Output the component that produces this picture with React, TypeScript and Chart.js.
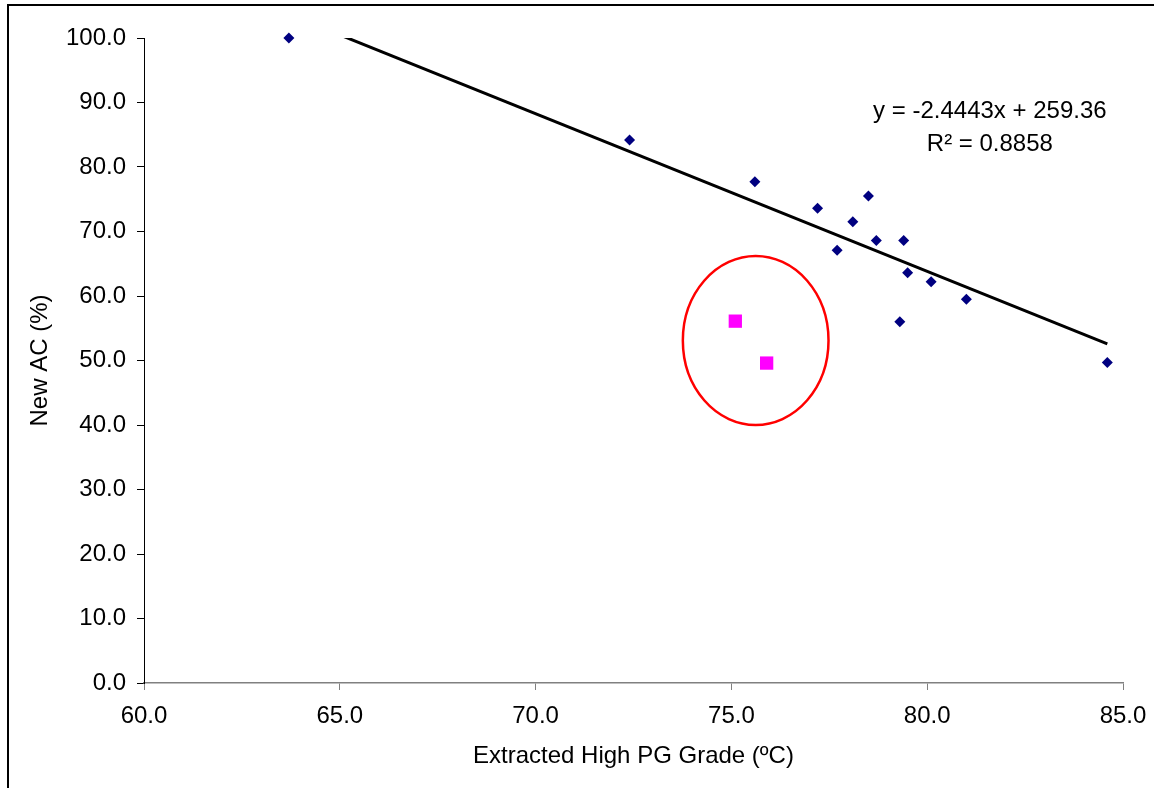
import React, { useEffect, useRef } from "react";
import { Chart, registerables } from "chart.js";

Chart.register(...registerables);

// ---- Data ----
const pgGradeX = [63.7, 72.4, 75.6, 77.2, 78.5, 78.1, 77.7, 78.7, 79.4, 79.5, 80.1, 81.0, 79.3, 84.6];
const newAcY = [100.0, 84.2, 77.7, 73.6, 75.5, 71.5, 67.1, 68.6, 68.6, 63.6, 62.2, 59.5, 56.0, 49.7];
const outlierX = [75.1, 75.9];
const outlierY = [56.1, 49.6];
const trendX = [63.7, 84.6];
const trendY = [103.66, 52.57];
const trendLabel = ["y = -2.4443x + 259.36", "R\u00B2 = 0.8858"];
const trendLabelX = 81.6;
const trendLabelY = [88.65, 83.44];
// outlier ring: centre x, centre y, half-width, half-height (data units)
const outlierRing = [75.62, 53.1, 1.86, 13.1];
const xTitle = "Extracted High PG Grade (\u00BAC)";
const yTitle = "New AC (%)";

const FONT = '"Liberation Sans", Arial, Helvetica, sans-serif';

const overlayPlugin = {
  id: "overlay",
  afterDatasetsDraw(chart: any) {
    const { ctx, scales } = chart;
    const x = scales.x;
    const y = scales.y;
    const [cx, cy, rx, ry] = outlierRing;
    const px = x.getPixelForValue(cx);
    const py = y.getPixelForValue(cy);
    const prx = Math.abs(x.getPixelForValue(cx + rx) - px);
    const pry = Math.abs(y.getPixelForValue(cy + ry) - py);
    ctx.save();
    ctx.beginPath();
    ctx.ellipse(px, py, prx, pry, 0, 0, Math.PI * 2);
    ctx.strokeStyle = "#FF0000";
    ctx.lineWidth = 2.5;
    ctx.stroke();

    ctx.font = `24px ${FONT}`;
    ctx.fillStyle = "#000000";
    ctx.textAlign = "center";
    ctx.textBaseline = "middle";
    trendLabel.forEach((t, i) => {
      ctx.fillText(t, x.getPixelForValue(trendLabelX), y.getPixelForValue(trendLabelY[i]));
    });
    ctx.restore();
  },
};

export default function App() {
  const canvasRef = useRef<HTMLCanvasElement | null>(null);

  useEffect(() => {
    if (!canvasRef.current) return;
    Chart.defaults.font.family = FONT;
    Chart.defaults.font.size = 24;
    Chart.defaults.color = "#000000";

    const chart = new Chart(canvasRef.current, {
      type: "scatter",
      data: {
        datasets: [
          {
            label: "Trend",
            type: "line",
            data: trendX.map((v, i) => ({ x: v, y: trendY[i] })),
            borderColor: "#000000",
            borderWidth: 3,
            pointRadius: 0,
            fill: false,
            showLine: true,
          } as any,
          {
            label: "New AC",
            data: pgGradeX.map((v, i) => ({ x: v, y: newAcY[i] })),
            pointStyle: "rectRot",
            pointRadius: 5.5,
            backgroundColor: "#000080",
            borderColor: "#000080",
            borderWidth: 0,
            clip: false,
          } as any,
          {
            label: "Outliers",
            data: outlierX.map((v, i) => ({ x: v, y: outlierY[i] })),
            pointStyle: "rect",
            pointRadius: 9.4,
            backgroundColor: "#FF00FF",
            borderColor: "#FF00FF",
            borderWidth: 0,
            clip: false,
          } as any,
        ],
      },
      options: {
        animation: false,
        responsive: false,
        devicePixelRatio: 1,
        layout: { padding: { left: 0, top: 38, right: 37, bottom: 0 } },
        plugins: {
          legend: { display: false },
          tooltip: { enabled: false },
        },
        scales: {
          x: {
            type: "linear",
            min: 60,
            max: 85,
            afterFit: (s: any) => {
              s.height = 105;
            },
            ticks: {
              stepSize: 5,
              padding: 12,
              maxRotation: 0,
              callback: (v: any) => Number(v).toFixed(1),
            },
            grid: {
              drawOnChartArea: false,
              drawTicks: true,
              tickLength: 7,
              color: "#808080",
            },
            border: { display: true, color: "#808080", width: 1.5 },
            title: {
              display: true,
              text: xTitle,
              padding: { top: 0, bottom: 17 },
            },
          },
          y: {
            type: "linear",
            min: 0,
            max: 100,
            afterFit: (s: any) => {
              s.width = 144;
            },
            ticks: {
              stepSize: 10,
              padding: 11,
              callback: (v: any) => Number(v).toFixed(1),
            },
            grid: {
              drawOnChartArea: false,
              drawTicks: true,
              tickLength: 7,
              color: "#000000",
            },
            border: { display: true, color: "#000000", width: 1 },
            title: {
              display: true,
              text: yTitle,
              padding: { top: 26, bottom: 0 },
            },
          },
        },
      },
      plugins: [overlayPlugin],
    });
    return () => chart.destroy();
  }, []);

  return (
    <div style={{ position: "fixed", left: 0, top: 0, width: 1154, height: 788, overflow: "hidden", background: "#ffffff" }}>
      <div
        style={{
          position: "absolute",
          left: 7,
          top: 4,
          width: 1300,
          height: 1000,
          border: "2px solid #000000",
          boxSizing: "border-box",
        }}
      />
      <canvas
        ref={canvasRef}
        width={1160}
        height={788}
        style={{ position: "absolute", left: 0, top: 0, width: 1160, height: 788 }}
      />
    </div>
  );
}
